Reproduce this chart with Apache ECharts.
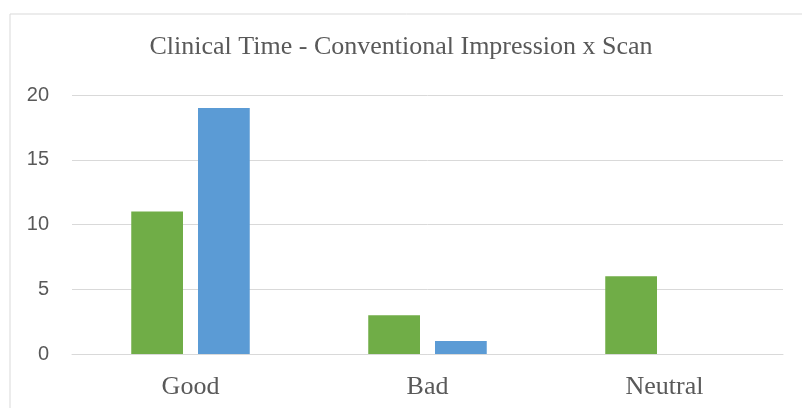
<!DOCTYPE html>
<html>
<head>
<meta charset="utf-8">
<script src="https://cdn.jsdelivr.net/npm/echarts@6/dist/echarts.min.js"></script>
<style>html,body{margin:0;padding:0;background:#fff;}#c{width:802px;height:408px;}</style>
</head>
<body>
<div id="c"></div>
<script>
const titleText = 'Clinical Time - Conventional Impression x Scan';
const categories = ['Good', 'Bad', 'Neutral'];
const conventional = [11, 3, 6];
const scan = [19, 1, 0];
const yTicks = [0, 5, 10, 15, 20];

const chart = echarts.init(document.getElementById('c'), null, {renderer: 'canvas'});
chart.setOption({
  animation: false,
  backgroundColor: '#ffffff',
  graphic: [{
    type: 'rect', left: 7.5, top: 11.5,
    shape: {width: 820, height: 420},
    style: {fill: 'none', stroke: '#D9D9D9', lineWidth: 1}
  }],
  title: {
    text: titleText, left: 'center', top: 29,
    textStyle: {fontFamily: 'Liberation Serif', fontSize: 26, fontWeight: 'normal', color: '#595959'}
  },
  grid: {left: 72, right: 19, top: 95, bottom: 54},
  xAxis: {
    type: 'category', data: categories,
    axisLine: {show: true, lineStyle: {color: '#D9D9D9', width: 1}},
    axisTick: {show: false},
    axisLabel: {fontFamily: 'Liberation Serif', fontSize: 26, color: '#595959', margin: 20}
  },
  yAxis: {
    type: 'value', min: yTicks[0], max: yTicks[yTicks.length - 1], interval: 5,
    axisLine: {show: false}, axisTick: {show: false},
    splitLine: {lineStyle: {color: '#D9D9D9', width: 1}},
    axisLabel: {fontFamily: 'Liberation Sans', fontSize: 20, color: '#595959', margin: 23}
  },
  series: [
    {name: 'Conventional Impression', type: 'bar', data: conventional, barGap: '29%', barCategoryGap: '50%', itemStyle: {color: '#70AD47'}},
    {name: 'Scan', type: 'bar', data: scan, itemStyle: {color: '#5B9BD5'}}
  ]
});
</script>
</body>
</html>
